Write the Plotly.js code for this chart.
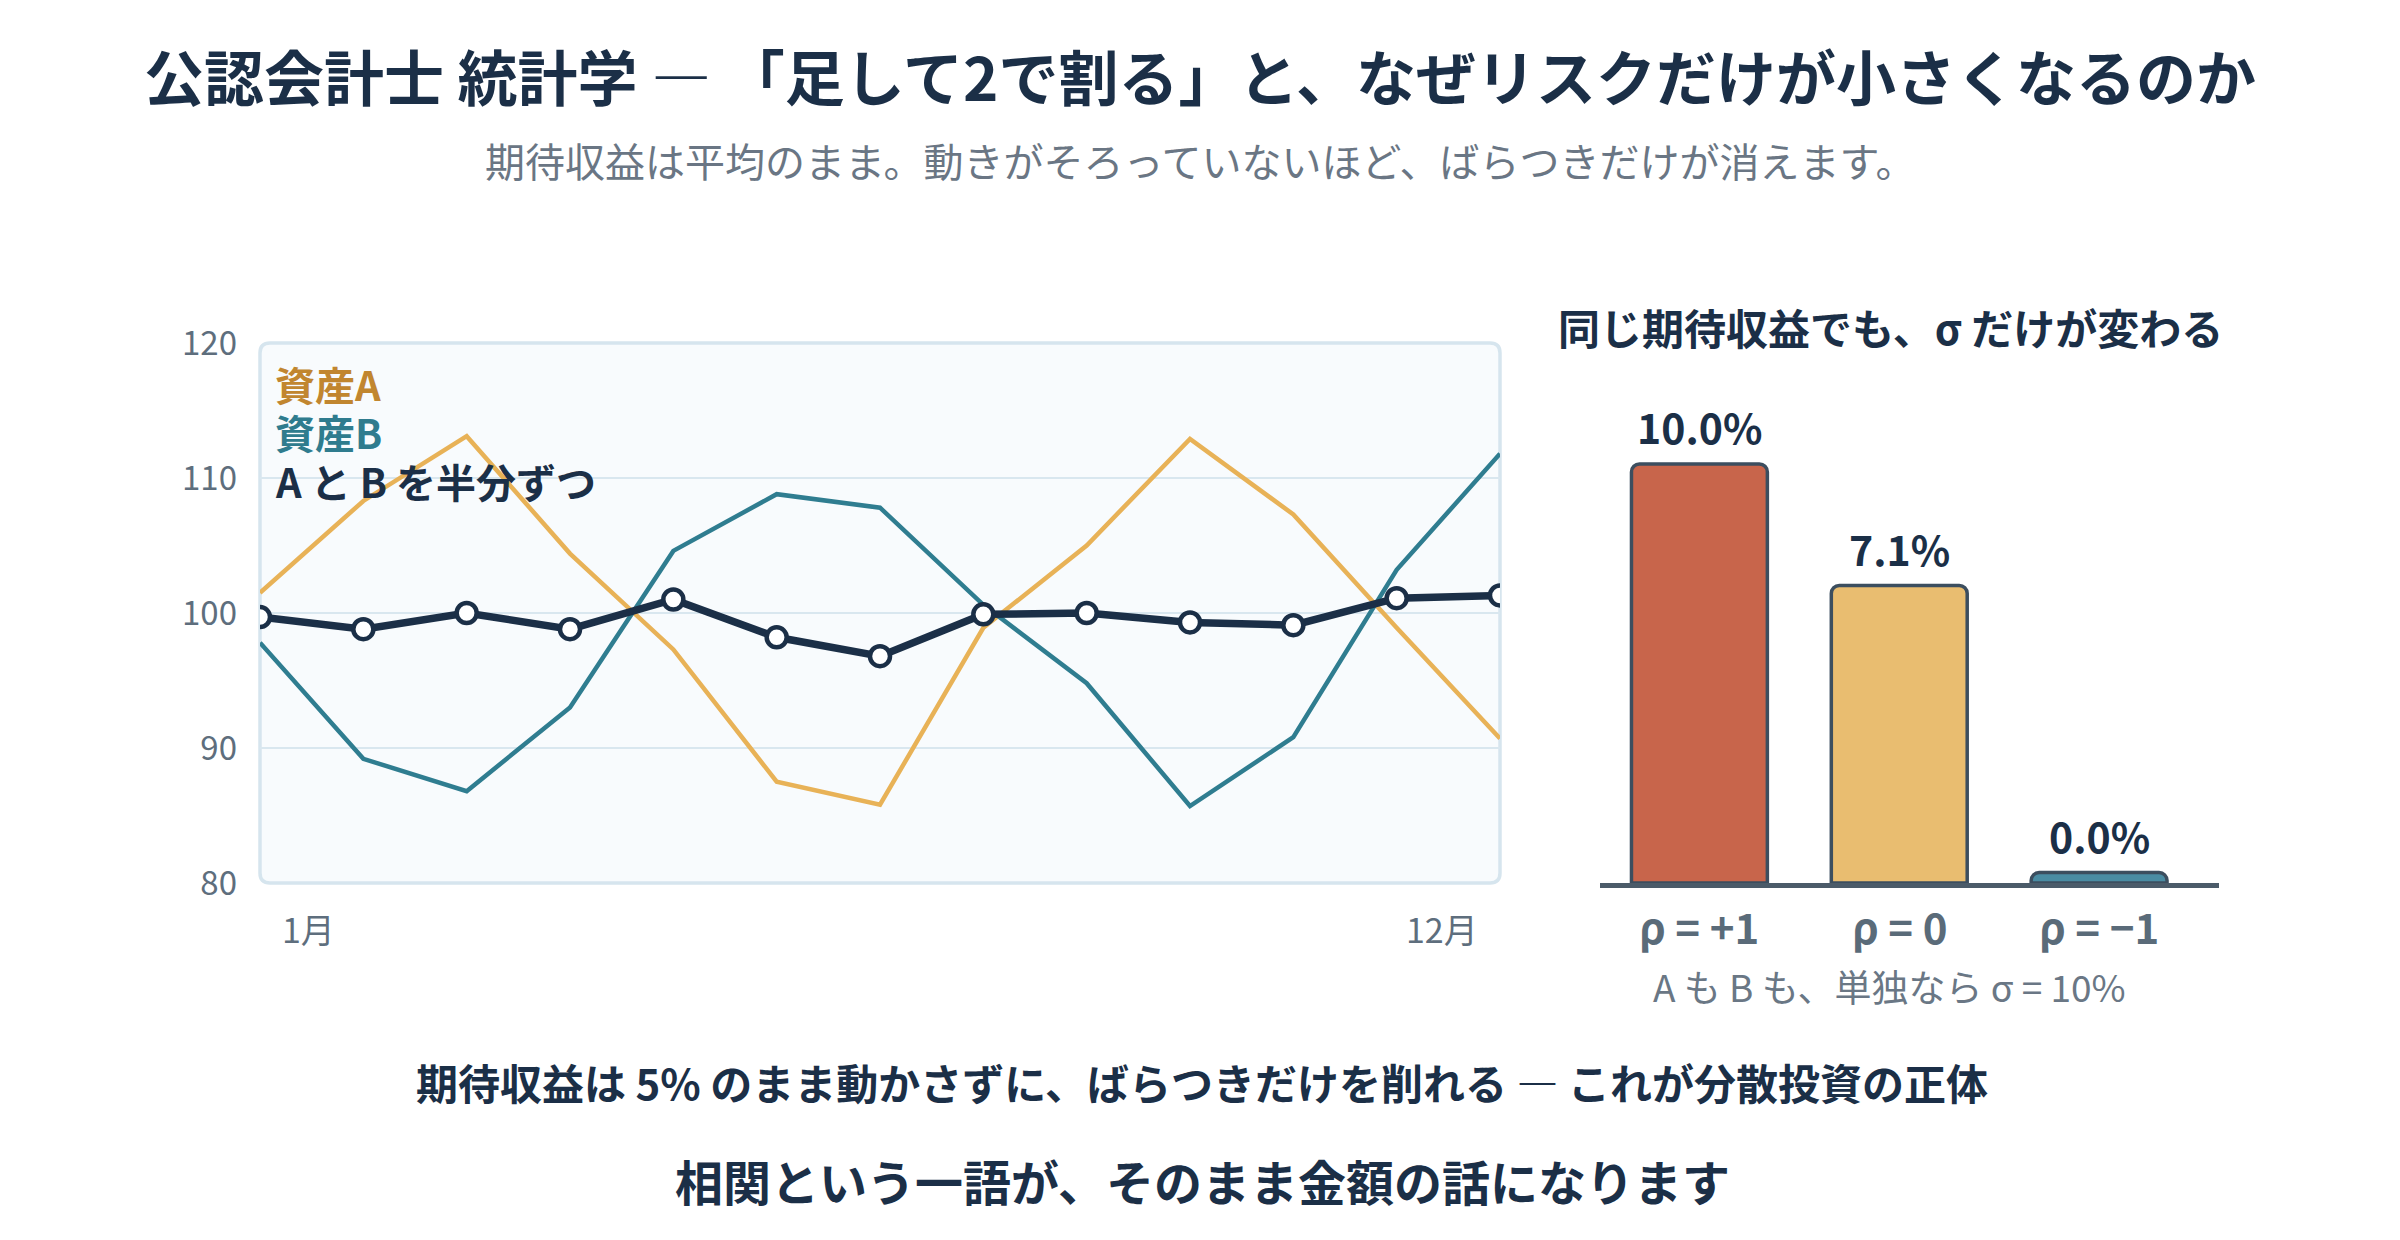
<!DOCTYPE html>
<html>
<head>
<meta charset="utf-8">
<script src="https://cdn.plot.ly/plotly-3.0.1.min.js"></script>
<style>html,body{margin:0;padding:0;background:#fff;}#chart{width:2400px;height:1240px;}</style>
</head>
<body>
<div id="chart"></div>
<script>
// ---- data ----
const months = [0,1,2,3,4,5,6,7,8,9,10,11,12];
const monthTickLabels = ['1月','12月'];
const assetA = [101.5,108.3,113.1,104.4,97.3,87.5,85.8,98.9,105.0,112.9,107.3,98.9,90.7];
const assetB = [97.8,89.2,86.8,93.0,104.6,108.8,107.8,100.6,94.8,85.7,90.8,103.2,111.8];
const portfolio = [99.7,98.8,100.0,98.8,101.0,98.2,96.8,99.9,100.0,99.3,99.1,101.1,101.3];
const seriesNames = ['資産A','資産B','A と B を半分ずつ'];
const yTicks = [80,90,100,110,120];

const corrLabels = ['ρ = +1','ρ = 0','ρ = −1'];
const sigmaValues = [10.0, 7.1, 0.0];
const sigmaText = ['10.0%','7.1%','0.0%'];

// ---- style ----
const FONT = '"Noto Sans CJK JP", "Noto Sans", sans-serif';
const NAVY = '#1b2f47';
const GRAY = '#5e6e7d';
const cA = '#e8b257', cB = '#2f7d90';
const barColors = ['#c8654b','#e9bd70','#4a8ca3'];

const W = 2400, H = 1240;
const px = v => v / W, py = v => 1 - v / H;
const L = {x0: 260, x1: 1500, yTop: 343, yBot: 883};
const R = {x0: 1599.5, x1: 2219};

const traces = [
  {x: months, y: assetA, type: 'scatter', mode: 'lines', name: seriesNames[0],
   line: {color: cA, width: 4.5}, xaxis: 'x', yaxis: 'y', hoverinfo: 'skip'},
  {x: months, y: assetB, type: 'scatter', mode: 'lines', name: seriesNames[1],
   line: {color: cB, width: 4.5}, xaxis: 'x', yaxis: 'y', hoverinfo: 'skip'},
  {x: months, y: portfolio, type: 'scatter', mode: 'lines+markers', name: seriesNames[2],
   line: {color: NAVY, width: 7.5},
   marker: {symbol: 'circle', size: 20, color: '#ffffff', line: {color: NAVY, width: 4.5}},
   xaxis: 'x', yaxis: 'y', hoverinfo: 'skip'},
  {x: [0,1,2], y: sigmaValues.map(v => Math.max(v, 0.25)), type: 'bar',
   width: 0.68, xaxis: 'x2', yaxis: 'y2', hoverinfo: 'skip',
   marker: {color: barColors, line: {color: '#3c4e5f', width: 3.5}, cornerradius: 8}}
];

// rounded plot background
const rx = 10 / W, ry = 10 / H;
const X0 = px(L.x0), X1 = px(L.x1), Y0 = py(L.yBot), Y1 = py(L.yTop);
const bgPath = `M ${X0+rx},${Y0} L ${X1-rx},${Y0} Q ${X1},${Y0} ${X1},${Y0+ry} L ${X1},${Y1-ry} Q ${X1},${Y1} ${X1-rx},${Y1} L ${X0+rx},${Y1} Q ${X0},${Y1} ${X0},${Y1-ry} L ${X0},${Y0+ry} Q ${X0},${Y0} ${X0+rx},${Y0} Z`;

const annotations = [];
// subtitle
annotations.push({xref: 'paper', yref: 'paper', x: 0.5, y: py(160), xanchor: 'center', yanchor: 'middle', showarrow: false,
  text: '期待収益は平均のまま。動きがそろっていないほど、ばらつきだけが消えます。',
  font: {family: FONT, size: 40, color: '#6a7684'}});
// legend labels inside the plot
const legendColors = ['#c1862f', '#2f7c8e', NAVY];
const legendY = [384, 432, 481];
seriesNames.forEach((n, i) => annotations.push({xref: 'paper', yref: 'paper', x: px(273), y: py(legendY[i]),
  xanchor: 'left', yanchor: 'middle', showarrow: false, text: n,
  font: {family: FONT, size: 40, color: legendColors[i], weight: 700}}));
// month labels
annotations.push({xref: 'x', yref: 'paper', x: months[0], y: py(928), xanchor: 'left', yanchor: 'middle', xshift: 20,
  showarrow: false, text: monthTickLabels[0], font: {family: FONT, size: 34, color: GRAY}});
annotations.push({xref: 'x', yref: 'paper', x: months[months.length-1], y: py(928), xanchor: 'right', yanchor: 'middle', xshift: -20,
  showarrow: false, text: monthTickLabels[1], font: {family: FONT, size: 34, color: GRAY}});
// right chart title
annotations.push({xref: 'paper', yref: 'paper', x: px(1890), y: py(327), xanchor: 'center', yanchor: 'middle',
  showarrow: false, text: '同じ期待収益でも、σ だけが変わる', font: {family: FONT, size: 42, color: NAVY, weight: 700}});
// bar value labels & categories
sigmaValues.forEach((v, i) => {
  annotations.push({xref: 'x2', yref: 'y2', x: i, y: Math.max(v, 0.25), xanchor: 'center', yanchor: 'middle', yshift: 38,
    showarrow: false, text: sigmaText[i], font: {family: FONT, size: 41, color: NAVY, weight: 700}});
  annotations.push({xref: 'x2', yref: 'paper', x: i, y: py(925), xanchor: 'center', yanchor: 'middle',
    showarrow: false, text: corrLabels[i], font: {family: FONT, size: 42, color: '#5a6b79', weight: 700}});
});
annotations.push({xref: 'paper', yref: 'paper', x: px(1889), y: py(986), xanchor: 'center', yanchor: 'middle',
  showarrow: false, text: 'A も B も、単独なら σ = 10%', font: {family: FONT, size: 37, color: '#6a7785'}});
// bottom messages
annotations.push({xref: 'paper', yref: 'paper', x: px(1202), y: py(1081), xanchor: 'center', yanchor: 'middle',
  showarrow: false, text: '期待収益は 5% のまま動かさずに、ばらつきだけを削れる ― これが分散投資の正体',
  font: {family: FONT, size: 42, color: NAVY, weight: 700}});
annotations.push({xref: 'paper', yref: 'paper', x: px(1202), y: py(1180), xanchor: 'center', yanchor: 'middle',
  showarrow: false, text: '相関という一語が、そのまま金額の話になります',
  font: {family: FONT, size: 48, color: NAVY, weight: 700}});

const barPxPerUnit = (883 - 464) / 10;
const layout = {
  width: W, height: H, autosize: false,
  margin: {l: 0, r: 0, t: 0, b: 0},
  paper_bgcolor: '#ffffff', plot_bgcolor: 'rgba(0,0,0,0)',
  showlegend: false,
  font: {family: FONT},
  title: {text: '公認会計士 統計学 ― 「足して2で割る」と、なぜリスクだけが小さくなるのか',
    x: 0.5, xanchor: 'center', y: py(80), yanchor: 'middle', yref: 'paper',
    font: {family: FONT, size: 60, color: NAVY, weight: 700}},
  xaxis: {domain: [X0, X1], range: [0, 12], showgrid: false, zeroline: false, showline: false,
    showticklabels: false, ticks: '', fixedrange: true},
  yaxis: {domain: [Y0, Y1], range: [80, 120], tickvals: yTicks, ticktext: yTicks.map(String),
    showgrid: true, gridcolor: '#d9e7ef', gridwidth: 2.5, zeroline: false, showline: false,
    ticks: '', ticklabelstandoff: 22, tickfont: {family: FONT, size: 33, color: GRAY}, fixedrange: true},
  xaxis2: {domain: [px(R.x0), px(R.x1)], range: [-0.5, 2.6], showgrid: false, zeroline: false,
    showline: true, linecolor: '#4b5b69', linewidth: 4.5, showticklabels: false, ticks: '', anchor: 'y2', fixedrange: true},
  yaxis2: {domain: [Y0, Y1], range: [0, (L.yBot - L.yTop) / barPxPerUnit], showgrid: false, zeroline: false,
    showline: false, showticklabels: false, ticks: '', anchor: 'x2', fixedrange: true},
  shapes: [{type: 'path', xref: 'paper', yref: 'paper', path: bgPath, layer: 'below',
    fillcolor: '#f8fbfd', line: {color: '#d6e5ee', width: 3.5}}],
  annotations: annotations
};

Plotly.newPlot('chart', traces, layout, {displayModeBar: false, staticPlot: true});
</script>
</body>
</html>
